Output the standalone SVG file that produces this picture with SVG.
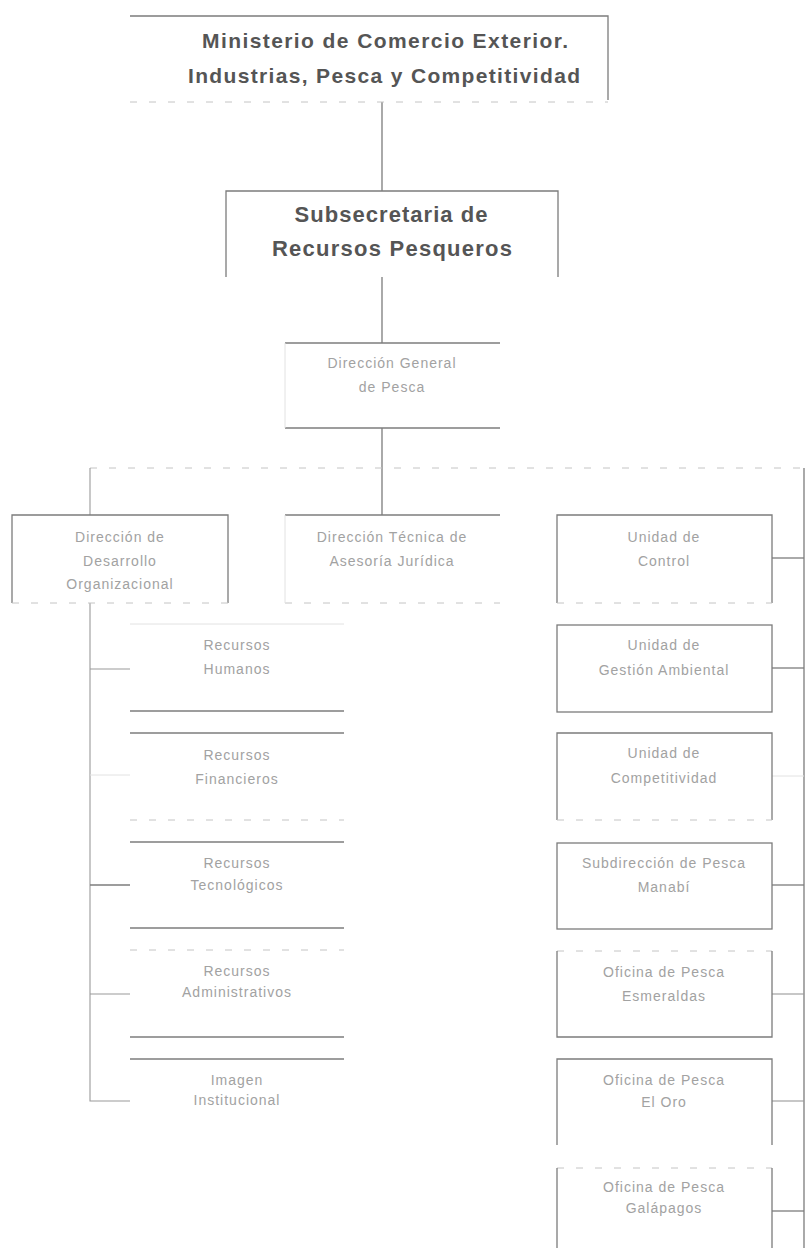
<svg xmlns="http://www.w3.org/2000/svg" width="805" height="1248" viewBox="0 0 805 1248">
<style>
.bg{fill:#ffffff}
.ln{stroke:#7c7c7c;stroke-width:1.3;fill:none}
.lt{stroke:#9a9a9a;stroke-width:1.1;fill:none}
.fd{stroke:#c4c4c4;stroke-width:1;fill:none;stroke-dasharray:7 12}
.fs{stroke:#e2e2e2;stroke-width:1;fill:none}
.hd{font-family:"Liberation Sans",Arial,sans-serif;font-weight:bold;fill:#555;text-anchor:middle}
.sm{font-family:"Liberation Sans",Arial,sans-serif;font-size:14px;fill:#a2a2a2;text-anchor:middle;letter-spacing:1px}
</style>
<rect class="bg" x="0" y="0" width="805" height="1248"/>

<g id="connectors">
  <path class="ln" d="M382 102 V191"/>
  <path class="ln" d="M382 277 V343"/>
  <path class="ln" d="M382 428 V515"/>
  <path class="fd" d="M90 468 H804"/>
  <path class="lt" d="M90 468 V515"/>
  <path class="ln" d="M804 468 V1248"/>
  <path class="ln" d="M772 558 H804"/>
  <path class="ln" d="M772 668 H804"/>
  <path class="fs" d="M772 776 H804"/>
  <path class="ln" d="M772 885 H804"/>
  <path class="lt" d="M772 994 H804"/>
  <path class="lt" d="M772 1101 H804"/>
  <path class="ln" d="M772 1211 H804"/>
  <path class="lt" d="M90 603 V1101 H130"/>
  <path class="lt" d="M90 669 H130"/>
  <path class="fs" d="M90 775 H130"/>
  <path class="ln" d="M90 885 H130"/>
  <path class="lt" d="M90 994 H130"/>
</g>

<g id="ministerio">
  <path class="ln" d="M130 16 H608 V100"/>
  <path class="fd" d="M130 102 H608"/>
  <text class="hd" x="385" y="48" font-size="21" textLength="366" lengthAdjust="spacing">Ministerio de Comercio Exterior.</text>
  <text class="hd" x="384" y="83" font-size="21" textLength="392" lengthAdjust="spacing">Industrias, Pesca y Competitividad</text>
</g>

<g id="subsecretaria">
  <path class="ln" d="M226 277 V191 H558 V277"/>
  <text class="hd" x="391" y="222" font-size="22" textLength="193" lengthAdjust="spacing">Subsecretaria de</text>
  <text class="hd" x="392" y="256" font-size="22" textLength="240" lengthAdjust="spacing">Recursos Pesqueros</text>
</g>

<g id="direccion-general">
  <path class="ln" d="M285 343 H500"/>
  <path class="ln" d="M285 428 H500"/>
  <path class="fs" d="M285 343 V428"/>
  <text class="sm" x="392" y="368">Dirección General</text>
  <text class="sm" x="392" y="392">de Pesca</text>
</g>

<g id="desarrollo">
  <path class="ln" d="M12 603 V515 H228 V603"/>
  <path class="fd" d="M12 603 H228"/>
  <text class="sm" x="120" y="542">Dirección de</text>
  <text class="sm" x="120" y="566">Desarrollo</text>
  <text class="sm" x="120" y="589">Organizacional</text>
</g>

<g id="asesoria">
  <path class="ln" d="M285 515 H500"/>
  <path class="fd" d="M285 603 H500"/>
  <path class="fs" d="M285 515 V603"/>
  <text class="sm" x="392" y="542">Dirección Técnica de</text>
  <text class="sm" x="392" y="566">Asesoría Jurídica</text>
</g>

<g id="recursos-humanos">
  <path class="fs" d="M130 624 H344"/>
  <path class="ln" d="M130 711 H344"/>
  <text class="sm" x="237" y="650">Recursos</text>
  <text class="sm" x="237" y="674">Humanos</text>
</g>
<g id="recursos-financieros">
  <path class="ln" d="M130 733 H344"/>
  <path class="fd" d="M130 820 H344"/>
  <text class="sm" x="237" y="760">Recursos</text>
  <text class="sm" x="237" y="784">Financieros</text>
</g>
<g id="recursos-tecnologicos">
  <path class="ln" d="M130 842 H344"/>
  <path class="ln" d="M130 928 H344"/>
  <text class="sm" x="237" y="868">Recursos</text>
  <text class="sm" x="237" y="890">Tecnológicos</text>
</g>
<g id="recursos-administrativos">
  <path class="fd" d="M130 950 H344"/>
  <path class="ln" d="M130 1037 H344"/>
  <text class="sm" x="237" y="976">Recursos</text>
  <text class="sm" x="237" y="997">Administrativos</text>
</g>
<g id="imagen-institucional">
  <path class="ln" d="M130 1059 H344"/>
  <text class="sm" x="237" y="1085">Imagen</text>
  <text class="sm" x="237" y="1105">Institucional</text>
</g>

<g id="unidad-control">
  <path class="ln" d="M557 603 V515 H772 V603"/>
  <path class="fd" d="M557 603 H772"/>
  <text class="sm" x="664" y="542">Unidad de</text>
  <text class="sm" x="664" y="566">Control</text>
</g>
<g id="unidad-gestion">
  <rect class="ln" x="557" y="625" width="215" height="87"/>
  <text class="sm" x="664" y="650">Unidad de</text>
  <text class="sm" x="664" y="675">Gestión Ambiental</text>
</g>
<g id="unidad-competitividad">
  <path class="ln" d="M557 820 V733 H772 V820"/>
  <path class="fd" d="M557 820 H772"/>
  <text class="sm" x="664" y="758">Unidad de</text>
  <text class="sm" x="664" y="783">Competitividad</text>
</g>
<g id="subdireccion-manabi">
  <rect class="ln" x="557" y="843" width="215" height="86"/>
  <text class="sm" x="664" y="868">Subdirección de Pesca</text>
  <text class="sm" x="664" y="892">Manabí</text>
</g>
<g id="oficina-esmeraldas">
  <path class="fd" d="M557 951 H772"/>
  <path class="ln" d="M557 951 V1037 H772 V951"/>
  <text class="sm" x="664" y="977">Oficina de Pesca</text>
  <text class="sm" x="664" y="1001">Esmeraldas</text>
</g>
<g id="oficina-el-oro">
  <path class="ln" d="M557 1145 V1059 H772 V1145"/>
  <text class="sm" x="664" y="1085">Oficina de Pesca</text>
  <text class="sm" x="664" y="1107">El Oro</text>
</g>
<g id="oficina-galapagos">
  <path class="fd" d="M557 1168 H772"/>
  <path class="ln" d="M557 1168 V1248 M772 1168 V1248"/>
  <text class="sm" x="664" y="1192">Oficina de Pesca</text>
  <text class="sm" x="664" y="1213">Galápagos</text>
</g>
</svg>
